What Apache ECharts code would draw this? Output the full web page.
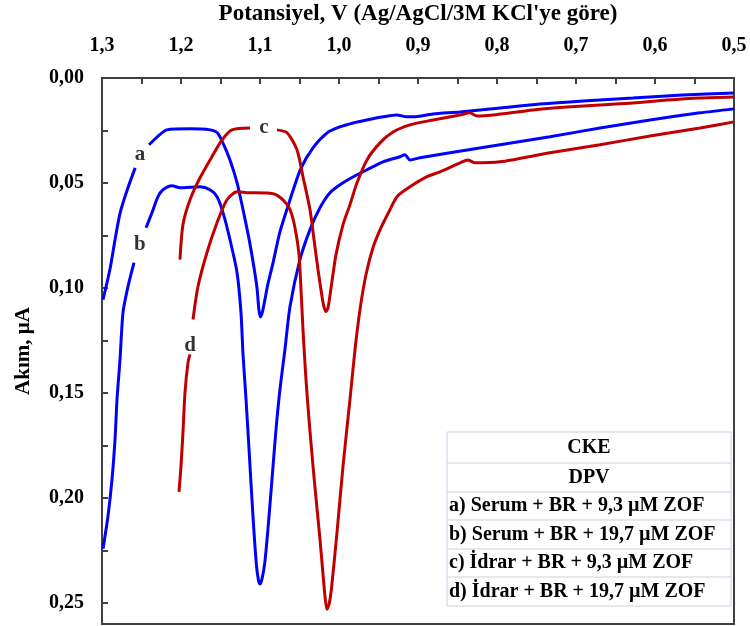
<!DOCTYPE html>
<html>
<head>
<meta charset="utf-8">
<script src="https://cdn.jsdelivr.net/npm/echarts@6/dist/echarts.min.js"></script>
<style>html,body{margin:0;padding:0;background:#fff}#c{width:750px;height:626px}</style>
</head>
<body>
<div id="c"></div>
<script>
// Potential (V) vs current (µA); null marks a gap in the trace (label space)
const curveA = [[1.2987,0.1055],[1.290,0.0912],[1.2835,0.0770],[1.277,0.0641],[1.268,0.0532],[1.258,0.0428],[1.249,null],
  [1.2405,0.0318],[1.230,0.0280],[1.218,0.0247],[1.189,0.0242],[1.163,0.0247],[1.154,0.0261],[1.147,0.0309],[1.138,0.0390],
  [1.129,0.0499],[1.1215,0.0627],[1.113,0.0784],[1.104,0.0993],[1.1015,0.1100],[1.0995,0.1138],[1.097,0.1115],[1.094,0.1060],
  [1.0905,0.0990],[1.0835,0.0880],[1.075,0.0736],
  [1.062,0.0580],[1.049,0.0437],[1.033,0.0333],[1.015,0.0261],[0.999,0.0233],[0.982,0.0214],[0.965,0.0200],[0.944,0.0185],
  [0.927,0.0176],[0.914,0.0185],[0.906,0.0185],[0.881,0.0171],[0.847,0.0162],[0.796,0.0143],[0.746,0.0124],[0.691,0.0109],
  [0.628,0.0095],[0.565,0.0081],[0.500,0.0071]];
const curveB = [[1.2987,0.2242],[1.2924,0.2086],[1.2873,0.1910],[1.2835,0.1720],[1.2810,0.1530],[1.2772,0.1340],[1.2734,0.1116],
  [1.2671,0.0993],[1.2595,0.0879],[1.252,null],[1.2443,0.0713],[1.2367,0.0641],[1.2291,0.0565],[1.2228,0.0532],[1.2114,0.0513],
  [1.2013,0.0523],[1.1759,0.0518],[1.1633,0.0532],[1.1544,0.0565],[1.1468,0.0641],[1.1380,0.0770],[1.1291,0.0926],[1.1241,0.1116],
  [1.1215,0.1316],[1.1177,0.1530],[1.1139,0.1767],[1.1089,0.2086],[1.1045,0.2320],[1.1020,0.2390],[1.1000,0.2410],[1.0975,0.2385],[1.0940,0.2310],[1.0899,0.2147],
  [1.0848,0.1910],[1.0797,0.1672],[1.0747,0.1482],[1.0684,0.1292],[1.0620,0.1088],[1.0494,0.0865],[1.0367,0.0722],[1.0241,0.0618],
  [1.0114,0.0546],[0.9949,0.0499],[0.9772,0.0461],[0.9646,0.0437],[0.9443,0.0399],[0.9228,0.0375],[0.9165,0.0366],[0.9101,0.0390],
  [0.8975,0.0380],[0.8595,0.0356],[0.7962,0.0318],[0.7329,0.0280],[0.6696,0.0238],[0.6063,0.0200],[0.5430,0.0166],[0.5000,0.0147]];
const curveC = [[1.2013,0.0865],[1.1975,0.0698],[1.1886,0.0580],[1.1759,0.0475],[1.1595,0.0366],[1.1481,0.0295],[1.1354,0.0247],
  [1.1127,0.0238],[1.095,null],[1.0785,0.0247],[1.0658,0.0261],[1.0532,0.0342],[1.0456,0.0470],[1.0367,0.0627],[1.0316,0.0770],
  [1.0266,0.0912],[1.0215,0.1040],[1.0190,0.1090],[1.0165,0.1112],[1.0140,0.1095],[1.0114,0.1035],[1.0038,0.0841],[0.9949,0.0698],[0.9861,0.0603],[0.9772,0.0499],
  [0.9646,0.0390],[0.9481,0.0309],[0.9316,0.0257],[0.9101,0.0223],[0.8810,0.0200],[0.8468,0.0176],[0.8342,0.0166],[0.8253,0.0181],
  [0.8051,0.0176],[0.7544,0.0152],[0.7114,0.0138],[0.6696,0.0128],[0.6278,0.0119],[0.5848,0.0105],[0.5430,0.0095],[0.5000,0.0090]];
const curveD = [[1.2025,0.1971],[1.2000,0.1848],[1.1975,0.1686],[1.1949,0.1496],[1.1911,0.1354],[1.1886,0.1316],[1.187,null],
  [1.1848,0.1150],[1.1785,0.0993],[1.1671,0.0831],[1.1544,0.0689],[1.1418,0.0580],[1.1291,0.0542],[1.1165,0.0546],[1.0835,0.0551],
  [1.0709,0.0580],[1.0620,0.0627],[1.0557,0.0713],[1.0506,0.0841],[1.0481,0.1007],[1.0456,0.1197],[1.0418,0.1435],[1.0380,0.1625],
  [1.0329,0.1848],[1.0278,0.2052],[1.0241,0.2195],[1.0203,0.2361],[1.0177,0.2470],[1.0152,0.2530],[1.0125,0.2505],[1.0095,0.2430],
  [1.0025,0.2162],[0.9949,0.1848],[0.9861,0.1530],[0.9797,0.1292],[0.9734,0.1102],[0.9658,0.0936],[0.9570,0.0808],[0.9468,0.0713],
  [0.9354,0.0627],[0.9266,0.0565],[0.9101,0.0518],[0.8886,0.0470],[0.8722,0.0447],[0.8468,0.0404],[0.8367,0.0390],[0.8278,0.0404],
  [0.7962,0.0399],[0.7329,0.0356],[0.6696,0.0318],[0.6063,0.0276],[0.5430,0.0238],[0.5000,0.0209]];
const curveLabels = [['a',1.252,0.0366],['b',1.252,0.0793],['c',1.095,0.0238],['d',1.1886,0.1275]];
const legendRows = ['CKE','DPV','a) Serum + BR + 9,3 µM ZOF','b) Serum + BR + 19,7 µM ZOF','c) İdrar + BR + 9,3 µM ZOF','d) İdrar + BR + 19,7 µM ZOF'];
const xTitle = "Potansiyel, V (Ag/AgCl/3M KCl'ye göre)";
const yTitle = 'Akım, µA';

const FONT = '"Liberation Serif","Times New Roman",serif';
const BLUE = '#0000ff', RED = '#c00000';
const chart = echarts.init(document.getElementById('c'), null, {renderer:'canvas'});

function lineSeries(data, color){
  return {type:'line', data:data, showSymbol:false, symbol:'none', smooth:0.25, connectNulls:false,
    lineStyle:{color:color, width:3}, z:2, animation:false};
}

// legend table graphics
const tblX = 447, tblW = 284, rowY = [432,463,492,520,549,577,606];
const g = [];
g.push({type:'rect', shape:{x:tblX, y:rowY[0], width:tblW, height:rowY[6]-rowY[0]}, style:{fill:'#fff', stroke:'#c8d0e2', lineWidth:1}, z:10});
for (let i=1;i<6;i++) g.push({type:'line', shape:{x1:tblX, y1:rowY[i], x2:tblX+tblW, y2:rowY[i]}, style:{stroke:'#c8d0e2', lineWidth:1}, z:11});
legendRows.forEach((t,i)=>{
  const cy = (rowY[i]+rowY[i+1])/2;
  const centered = i<2;
  g.push({type:'text', x: centered ? tblX+tblW/2 : tblX+2, y: cy, z:12,
    style:{text:t, font:'bold 20px '+FONT, fill:'#000', align: centered?'center':'left', verticalAlign:'middle'}});
});

chart.setOption({
  animation:false,
  grid:{left:102, top:78, right:16, bottom:2, containLabel:false, outerBoundsMode:'none',
    show:true, borderColor:'#404040', borderWidth:2, backgroundColor:'transparent'},
  xAxis:{type:'value', position:'top', min:0.5, max:1.3, interval:0.1, inverse:true,
    name:xTitle, nameLocation:'middle', nameGap:52, nameMoveOverlap:false,
    nameTextStyle:{fontFamily:FONT, fontWeight:'bold', fontSize:23, color:'#000'},
    axisLine:{show:true, lineStyle:{color:'#404040', width:2}},
    axisTick:{show:true, inside:true, length:6, lineStyle:{color:'#404040', width:2}},
    minorTick:{show:true, splitNumber:2, length:6, lineStyle:{color:'#404040', width:2}},
    splitLine:{show:false},
    axisLabel:{fontFamily:FONT, fontWeight:'bold', fontSize:20, color:'#000', margin:22,
      formatter:v=>v.toFixed(1).replace('.',',')}},
  yAxis:{type:'value', min:0, max:0.26, interval:0.05, inverse:true,
    name:yTitle, nameLocation:'middle', nameGap:68, nameRotate:90, nameMoveOverlap:false,
    nameTextStyle:{fontFamily:FONT, fontWeight:'bold', fontSize:21, color:'#000'},
    axisLine:{show:true, lineStyle:{color:'#404040', width:2}},
    axisTick:{show:true, inside:true, length:6, lineStyle:{color:'#404040', width:2}},
    minorTick:{show:true, splitNumber:2, length:6, lineStyle:{color:'#404040', width:2}},
    splitLine:{show:false},
    axisLabel:{fontFamily:FONT, fontWeight:'bold', fontSize:20, color:'#000', margin:18, showMaxLabel:false,
      formatter:v=>v.toFixed(2).replace('.',',')}},
  series:[
    lineSeries(curveA, BLUE), lineSeries(curveB, BLUE), lineSeries(curveC, RED), lineSeries(curveD, RED),
    {type:'scatter', data:curveLabels.map(d=>({name:d[0], value:[d[1],d[2]]})), symbolSize:0, z:5,
      label:{show:true, position:'inside', formatter:p=>p.name, fontFamily:FONT, fontWeight:'bold', fontSize:21, color:'#000'}}
  ],
  graphic:g
});
</script>
</body>
</html>
